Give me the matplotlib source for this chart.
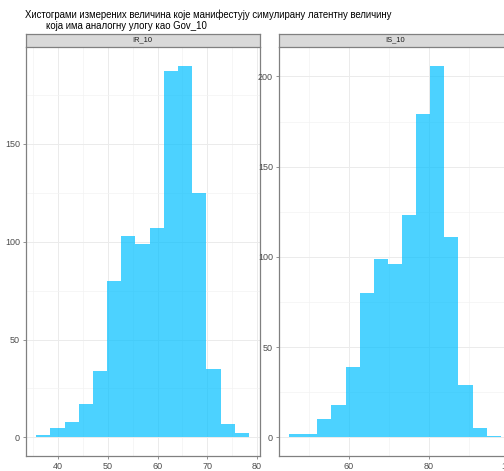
import numpy as np
import matplotlib
matplotlib.use("Agg")
from matplotlib import pyplot as plt
from matplotlib.ticker import MultipleLocator

plt.rcParams['font.family'] = ['Liberation Sans', 'DejaVu Sans']

title = ("Хистограми измерених величина које манифестују симулирану латентну величину\n"
         "        која има аналогну улогу као Gov_10")

# facet names
panels = ["IR_10", "IS_10"]

# histogram counts (15 bins each)
ir_counts = [1, 5, 8, 17, 34, 80, 103, 99, 107, 187, 190, 125, 35, 7, 2]
is_counts = [2, 2, 10, 18, 39, 80, 99, 96, 123, 179, 206, 111, 29, 5, 1]

# bin start and end of each panel
ir_range = (35.56, 78.37)
is_range = (45.15, 98.0)

bar_color = "deepskyblue"

fig = plt.figure(figsize=(5.04, 4.71), dpi=100)

W, H = 504, 471


def px_axes(x0, x1, y0, y1):
    return fig.add_axes([x0 / W, 1 - y1 / H, (x1 - x0) / W, (y1 - y0) / H])


def facet(x0, x1, name, counts, rng, xmajor):
    ax = px_axes(x0, x1, 47, 456)
    edges = np.linspace(rng[0], rng[1], len(counts) + 1)
    ax.stairs(counts, edges, fill=True, color=bar_color, alpha=0.7,
              linewidth=0, zorder=3)
    span = rng[1] - rng[0]
    ax.set_xlim(rng[0] - 0.05 * span, rng[1] + 0.05 * span)
    top = max(counts)
    ax.set_ylim(-0.05 * top, top * 1.05)

    ax.xaxis.set_major_locator(MultipleLocator(xmajor))
    ax.xaxis.set_minor_locator(MultipleLocator(xmajor / 2))
    ax.yaxis.set_major_locator(MultipleLocator(50))
    ax.yaxis.set_minor_locator(MultipleLocator(25))
    ax.grid(which="major", color="#EBEBEB", linewidth=0.7, zorder=0)
    ax.grid(which="minor", color="#F3F3F3", linewidth=0.5, zorder=0)
    ax.set_axisbelow(True)

    for side in ["left", "bottom", "right", "top"]:
        ax.spines[side].set_color("#808080")
        ax.spines[side].set_linewidth(0.9)
    ax.spines["top"].set_visible(False)

    ax.tick_params(which="major", length=2.5, width=0.6, color="#808080",
                   labelsize=6.5, labelcolor="#4D4D4D", pad=1.5)
    ax.tick_params(which="minor", length=0)

    # strip
    st = px_axes(x0, x1, 33.5, 46.5)
    st.set_facecolor("#D9D9D9")
    st.set_xticks([])
    st.set_yticks([])
    for s in st.spines.values():
        s.set_color("#808080")
        s.set_linewidth(0.9)
    st.text(0.5, 0.5, name, ha="center", va="center", fontsize=5.4,
            color="#1A1A1A", transform=st.transAxes)
    return ax


facet(25.5, 259.5, panels[0], ir_counts, ir_range, 10)
facet(278.5, 511.3, panels[1], is_counts, is_range, 20)

fig.text(25 / W, 1 - 10 / H, title, ha="left", va="top", fontsize=6.9,
         color="black", linespacing=1.05)

fig.savefig("out.png", dpi=100)
